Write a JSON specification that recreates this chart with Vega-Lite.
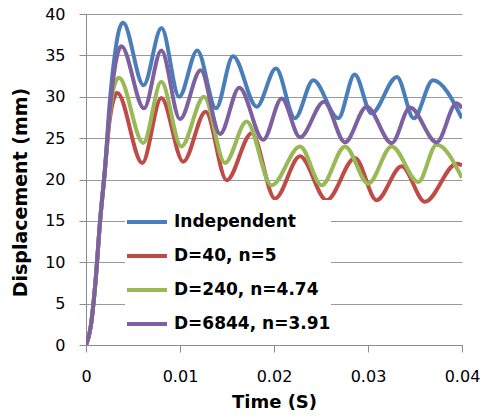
{
  "$schema": "https://vega.github.io/schema/vega-lite/v6.json",
  "width": 376,
  "height": 331,
  "autosize": {"type": "none"},
  "padding": {"left": 86, "top": 14, "right": 20, "bottom": 75},
  "background": "white",
  "config": {"view": {"stroke": null}},
  "data": {"values": [
    {"s": "Independent", "t": 0, "v": 0},
    {"s": "Independent", "t": 0.0005, "v": 2.2},
    {"s": "Independent", "t": 0.001, "v": 7.5},
    {"s": "Independent", "t": 0.0015, "v": 15},
    {"s": "Independent", "t": 0.002, "v": 21},
    {"s": "Independent", "t": 0.0025, "v": 29},
    {"s": "Independent", "t": 0.003, "v": 34.5},
    {"s": "Independent", "t": 0.0035, "v": 38},
    {"s": "Independent", "t": 0.00394, "v": 38.95},
    {"s": "Independent", "t": 0.00612, "v": 31.4},
    {"s": "Independent", "t": 0.00803, "v": 38.3},
    {"s": "Independent", "t": 0.00991, "v": 30.0},
    {"s": "Independent", "t": 0.01184, "v": 35.6},
    {"s": "Independent", "t": 0.01383, "v": 28.6},
    {"s": "Independent", "t": 0.01564, "v": 34.9},
    {"s": "Independent", "t": 0.01816, "v": 28.8},
    {"s": "Independent", "t": 0.02021, "v": 33.4},
    {"s": "Independent", "t": 0.02223, "v": 27.4},
    {"s": "Independent", "t": 0.02418, "v": 32.0},
    {"s": "Independent", "t": 0.02684, "v": 27.4},
    {"s": "Independent", "t": 0.02858, "v": 32.7},
    {"s": "Independent", "t": 0.03037, "v": 28.0},
    {"s": "Independent", "t": 0.03308, "v": 32.4},
    {"s": "Independent", "t": 0.03487, "v": 27.4},
    {"s": "Independent", "t": 0.03691, "v": 32.0},
    {"s": "Independent", "t": 0.04, "v": 27.4},

    {"s": "D=40, n=5", "t": 0, "v": 0},
    {"s": "D=40, n=5", "t": 0.0005, "v": 2.2},
    {"s": "D=40, n=5", "t": 0.001, "v": 7.5},
    {"s": "D=40, n=5", "t": 0.0015, "v": 15},
    {"s": "D=40, n=5", "t": 0.002, "v": 21},
    {"s": "D=40, n=5", "t": 0.0025, "v": 27},
    {"s": "D=40, n=5", "t": 0.003, "v": 29.9},
    {"s": "D=40, n=5", "t": 0.00333, "v": 30.45},
    {"s": "D=40, n=5", "t": 0.00599, "v": 22.0},
    {"s": "D=40, n=5", "t": 0.00801, "v": 29.85},
    {"s": "D=40, n=5", "t": 0.01035, "v": 22.15},
    {"s": "D=40, n=5", "t": 0.01273, "v": 28.2},
    {"s": "D=40, n=5", "t": 0.01497, "v": 19.9},
    {"s": "D=40, n=5", "t": 0.01763, "v": 25.6},
    {"s": "D=40, n=5", "t": 0.02011, "v": 17.7},
    {"s": "D=40, n=5", "t": 0.02277, "v": 22.8},
    {"s": "D=40, n=5", "t": 0.02561, "v": 17.5},
    {"s": "D=40, n=5", "t": 0.02862, "v": 22.6},
    {"s": "D=40, n=5", "t": 0.03092, "v": 17.5},
    {"s": "D=40, n=5", "t": 0.03358, "v": 21.6},
    {"s": "D=40, n=5", "t": 0.03606, "v": 17.3},
    {"s": "D=40, n=5", "t": 0.03943, "v": 21.9},
    {"s": "D=40, n=5", "t": 0.04, "v": 21.7},

    {"s": "D=240, n=4.74", "t": 0, "v": 0},
    {"s": "D=240, n=4.74", "t": 0.0005, "v": 2.2},
    {"s": "D=240, n=4.74", "t": 0.001, "v": 7.5},
    {"s": "D=240, n=4.74", "t": 0.0015, "v": 15},
    {"s": "D=240, n=4.74", "t": 0.002, "v": 21},
    {"s": "D=240, n=4.74", "t": 0.0025, "v": 27.5},
    {"s": "D=240, n=4.74", "t": 0.003, "v": 31.3},
    {"s": "D=240, n=4.74", "t": 0.00351, "v": 32.3},
    {"s": "D=240, n=4.74", "t": 0.0061, "v": 24.4},
    {"s": "D=240, n=4.74", "t": 0.00801, "v": 31.8},
    {"s": "D=240, n=4.74", "t": 0.01014, "v": 24.0},
    {"s": "D=240, n=4.74", "t": 0.01255, "v": 30.0},
    {"s": "D=240, n=4.74", "t": 0.01479, "v": 22.0},
    {"s": "D=240, n=4.74", "t": 0.01709, "v": 27.0},
    {"s": "D=240, n=4.74", "t": 0.01975, "v": 19.3},
    {"s": "D=240, n=4.74", "t": 0.02277, "v": 24.0},
    {"s": "D=240, n=4.74", "t": 0.02507, "v": 19.3},
    {"s": "D=240, n=4.74", "t": 0.02755, "v": 24.0},
    {"s": "D=240, n=4.74", "t": 0.03003, "v": 19.5},
    {"s": "D=240, n=4.74", "t": 0.03252, "v": 24.0},
    {"s": "D=240, n=4.74", "t": 0.03535, "v": 19.7},
    {"s": "D=240, n=4.74", "t": 0.0373, "v": 24.2},
    {"s": "D=240, n=4.74", "t": 0.04, "v": 20.2},

    {"s": "D=6844, n=3.91", "t": 0, "v": 0},
    {"s": "D=6844, n=3.91", "t": 0.0005, "v": 2.2},
    {"s": "D=6844, n=3.91", "t": 0.001, "v": 7.5},
    {"s": "D=6844, n=3.91", "t": 0.0015, "v": 15},
    {"s": "D=6844, n=3.91", "t": 0.002, "v": 21},
    {"s": "D=6844, n=3.91", "t": 0.0025, "v": 28},
    {"s": "D=6844, n=3.91", "t": 0.003, "v": 33},
    {"s": "D=6844, n=3.91", "t": 0.0035, "v": 35.7},
    {"s": "D=6844, n=3.91", "t": 0.00376, "v": 36.1},
    {"s": "D=6844, n=3.91", "t": 0.00617, "v": 28.6},
    {"s": "D=6844, n=3.91", "t": 0.00801, "v": 35.6},
    {"s": "D=6844, n=3.91", "t": 0.01, "v": 27.3},
    {"s": "D=6844, n=3.91", "t": 0.0122, "v": 33.2},
    {"s": "D=6844, n=3.91", "t": 0.01426, "v": 25.5},
    {"s": "D=6844, n=3.91", "t": 0.01631, "v": 31.1},
    {"s": "D=6844, n=3.91", "t": 0.01886, "v": 24.8},
    {"s": "D=6844, n=3.91", "t": 0.02082, "v": 29.8},
    {"s": "D=6844, n=3.91", "t": 0.02277, "v": 25.1},
    {"s": "D=6844, n=3.91", "t": 0.02532, "v": 29.4},
    {"s": "D=6844, n=3.91", "t": 0.02755, "v": 24.5},
    {"s": "D=6844, n=3.91", "t": 0.02986, "v": 28.8},
    {"s": "D=6844, n=3.91", "t": 0.03252, "v": 24.4},
    {"s": "D=6844, n=3.91", "t": 0.03447, "v": 28.7},
    {"s": "D=6844, n=3.91", "t": 0.0373, "v": 24.5},
    {"s": "D=6844, n=3.91", "t": 0.03943, "v": 29.2},
    {"s": "D=6844, n=3.91", "t": 0.04, "v": 28.6}
  ]},
  "mark": {"type": "line", "interpolate": "monotone", "strokeWidth": 4, "clip": true},
  "encoding": {
    "x": {
      "field": "t", "type": "quantitative",
      "scale": {"domain": [0, 0.04], "nice": false},
      "axis": {
        "values": [0, 0.01, 0.02, 0.03, 0.04],
        "labelExpr": "datum.value == 0 ? '0' : format(datum.value, '.2f')",
        "grid": false,
        "domainColor": "#8c8c8c", "tickColor": "#8c8c8c", "tickSize": 7,
        "labelFont": "DejaVu Sans", "labelFontSize": 16, "labelColor": "#000000",
        "labelPadding": 16, "labelFlush": false,
        "title": "Time (S)", "titleFont": "DejaVu Sans", "titleFontSize": 18,
        "titleFontWeight": "bold", "titleColor": "#000000",
        "titleBaseline": "middle", "titleY": 57
      }
    },
    "y": {
      "field": "v", "type": "quantitative",
      "scale": {"domain": [0, 40], "nice": false},
      "axis": {
        "values": [0, 5, 10, 15, 20, 25, 30, 35, 40],
        "grid": true, "gridColor": "#9a9a9a", "gridWidth": 1,
        "domainColor": "#8c8c8c", "tickColor": "#8c8c8c", "tickSize": 7,
        "labelFont": "DejaVu Sans", "labelFontSize": 16, "labelColor": "#000000",
        "labelPadding": 14, "labelFlush": false,
        "title": "Displacement (mm)", "titleFont": "DejaVu Sans", "titleFontSize": 19,
        "titleFontWeight": "bold", "titleColor": "#000000",
        "titleBaseline": "middle", "titleX": -66, "titleY": 178
      }
    },
    "color": {
      "field": "s", "type": "nominal",
      "sort": ["Independent", "D=40, n=5", "D=240, n=4.74", "D=6844, n=3.91"],
      "scale": {
        "domain": ["Independent", "D=40, n=5", "D=240, n=4.74", "D=6844, n=3.91"],
        "range": ["#4a7ebb", "#be4b48", "#98b954", "#7d60a0"]
      },
      "legend": {
        "orient": "none", "legendX": 39, "legendY": 186,
        "title": null, "padding": 0, "fillColor": "white",
        "symbolType": "stroke", "symbolSize": 1600, "symbolStrokeWidth": 4,
        "labelFont": "DejaVu Sans", "labelFontSize": 17, "labelFontWeight": "bold",
        "labelColor": "#000000", "labelOffset": 5, "rowPadding": 4,
        "labelLimit": 300
      }
    }
  }
}
